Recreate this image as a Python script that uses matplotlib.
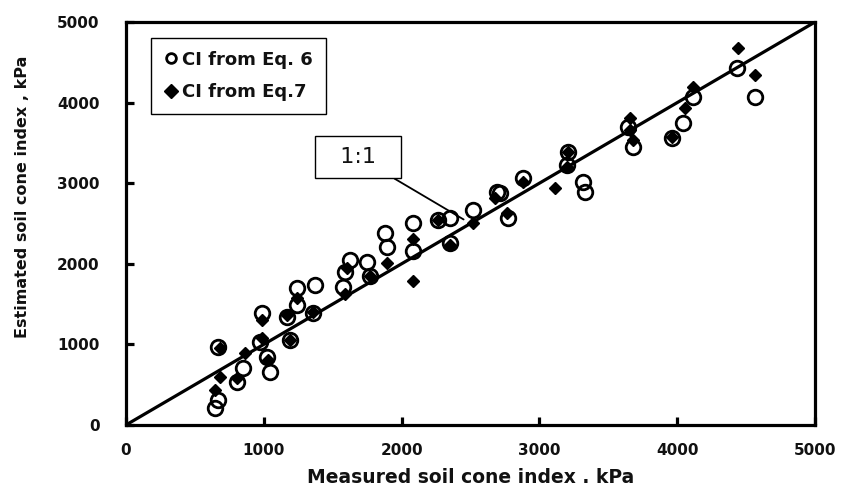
import matplotlib
matplotlib.use('Agg')
import matplotlib.pyplot as plt
import numpy as np

# measured vs estimated soil cone index (kPa)
eq6_measured = [646, 670, 670, 803, 851, 972, 1021, 1045, 985, 1190, 1166, 1238, 1238, 1372,
                1359, 1589, 1626, 1577, 1751, 1771, 1880, 1896, 2080, 2080, 2266, 2351, 2351,
                2520, 2690, 2714, 2774, 2883, 3198, 3210, 3319, 3331, 3645, 3682, 3960, 4044,
                4117, 4432, 4565]
eq6_estimated = [207, 310, 971, 537, 703, 1034, 847, 661, 1385, 1055, 1344, 1489, 1696, 1737,
                 1390, 1902, 2047, 1708, 2026, 1849, 2378, 2212, 2502, 2163, 2543, 2564, 2254,
                 2667, 2894, 2873, 2564, 3060, 3226, 3391, 3019, 2894, 3701, 3453, 3557, 3743,
                 4073, 4426, 4073]

eq7_measured = [646, 682, 680, 803, 864, 985, 985, 1033, 1190, 1166, 1238, 1359, 1589, 1601,
                1771, 1892, 2080, 2085, 2266, 2351, 2520, 2678, 2763, 2883, 3113, 3198, 3210,
                3657, 3657, 3682, 3960, 4057, 4117, 4443, 4565]
eq7_estimated = [434, 599, 960, 579, 889, 1075, 1303, 806, 1055, 1365, 1572, 1406, 1625, 1944,
                 1849, 2006, 2308, 1790, 2543, 2233, 2502, 2816, 2626, 3019, 2936, 3205, 3391,
                 3805, 3660, 3536, 3577, 3929, 4197, 4674, 4342]

line_11 = [0, 5000]
ticks = [0, 1000, 2000, 3000, 4000, 5000]

fig = plt.figure(figsize=(8.42, 4.9), dpi=100)
ax = fig.add_axes([0.1496, 0.1327, 0.8184, 0.8224])
txt = '#111111'

ax.plot(line_11, line_11, color='k', lw=2.3, zorder=1)
ax.plot(eq6_measured, eq6_estimated, 'o', ms=10.5, mfc='none', mec='k', mew=2,
        label='CI from Eq. 6', zorder=3)
ax.plot(eq7_measured, eq7_estimated, 'D', ms=6.3, mfc='k', mec='k',
        label='CI from Eq.7', zorder=2)

ax.set_xlim(0, 5000)
ax.set_ylim(0, 5000)
ax.set_xticks(ticks)
ax.set_yticks(ticks)
for s in ax.spines.values():
    s.set_linewidth(2.3)
ax.tick_params(direction='in', length=6, width=2.3, labelsize=11, colors='k',
               labelcolor=txt)
ax.tick_params(axis='y', pad=19)
ax.tick_params(axis='x', pad=13)
for lab in ax.get_xticklabels() + ax.get_yticklabels():
    lab.set_fontweight('bold')

ax.set_xlabel('Measured soil cone index . kPa', fontsize=13.5, fontweight='bold',
              color=txt, va='center')
ax.xaxis.set_label_coords(0.5, -0.13)
ax.set_ylabel('Estimated soil cone index , kPa', fontsize=11.5, fontweight='bold',
              color=txt, va='center')
ax.yaxis.set_label_coords(-0.1495, 0.566)

leg = ax.legend(loc='upper left', bbox_to_anchor=(0.036, 0.960), borderaxespad=0,
                fancybox=False, edgecolor='k', framealpha=1, handlelength=0.8,
                handletextpad=0.25, labelspacing=0.8, borderpad=0.7,
                prop={'weight': 'bold', 'size': 13})
leg.get_frame().set_linewidth(1.0)
for h in leg.legend_handles:
    h.set_markersize(7)
for t in leg.get_texts():
    t.set_color(txt)

ax.annotate('  1:1  ', xy=(2450, 2550), xytext=(1683, 3325), fontsize=16,
            ha='center', va='center', color=txt,
            bbox=dict(boxstyle='square,pad=0.5', fc='white', ec='k', lw=1.0),
            arrowprops=dict(arrowstyle='-', color='k', lw=1.3, shrinkA=0, shrinkB=0))

plt.savefig('out.png', dpi=100)
